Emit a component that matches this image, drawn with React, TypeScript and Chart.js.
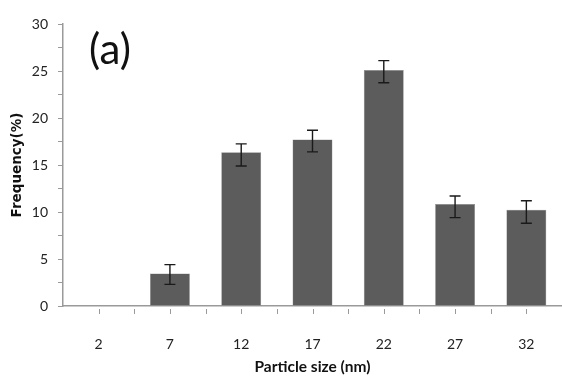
import React, { useEffect, useRef } from "react";
import { Chart, registerables } from "chart.js";

Chart.register(...registerables);

const categories = ["2", "7", "12", "17", "22", "27", "32"];
const frequency = [0, 3.45, 16.35, 17.7, 25.1, 10.85, 10.25];
const errorUp = [0, 0.95, 0.9, 1.0, 1.0, 0.85, 0.95];
const errorDown = [0, 1.15, 1.45, 1.3, 1.35, 1.45, 1.45];
const yTicks = [0, 5, 10, 15, 20, 25, 30];

const FONT = "Lato, 'Open Sans', sans-serif";
const AXIS_COLOR = "#9a9a9a";

const extrasPlugin = {
  id: "extras",
  afterDatasetsDraw(chart: any) {
    const ctx = chart.ctx;
    const x = chart.scales.x;
    const y = chart.scales.y;
    const meta = chart.getDatasetMeta(0);
    ctx.save();
    // error bars
    ctx.strokeStyle = "#1a1a1a";
    ctx.lineWidth = 1.4;
    meta.data.forEach((bar: any, i: number) => {
      if (!frequency[i]) return;
      const cx = bar.x;
      const top = y.getPixelForValue(frequency[i] + errorUp[i]);
      const bot = y.getPixelForValue(frequency[i] - errorDown[i]);
      ctx.beginPath();
      ctx.moveTo(cx, top);
      ctx.lineTo(cx, bot);
      ctx.moveTo(cx - 5.5, top);
      ctx.lineTo(cx + 5.5, top);
      ctx.moveTo(cx - 5.5, bot);
      ctx.lineTo(cx + 5.5, bot);
      ctx.stroke();
    });
    // x tick marks at centers and boundaries
    ctx.strokeStyle = AXIS_COLOR;
    ctx.lineWidth = 1;
    const base = y.getPixelForValue(0);
    const n = categories.length;
    const w = (x.right - x.left) / n;
    for (let k = 0; k < n * 2; k++) {
      const px = Math.round(x.left + (k + 1) * w / 2) + 0.5;
      ctx.beginPath();
      ctx.moveTo(px, base + 3);
      ctx.lineTo(px, base + 8);
      ctx.stroke();
    }
    // (a) label
    ctx.fillStyle = "#111";
    ctx.font = `42px ${FONT}`;
    ctx.textAlign = "center";
    ctx.textBaseline = "middle";
    ctx.fillText("(a)", 110, 50);
    ctx.restore();
  },
};

export default function App() {
  const ref = useRef<HTMLCanvasElement>(null);
  useEffect(() => {
    document.body.style.margin = "0";
    const chart = new Chart(ref.current!, {
      type: "bar",
      data: {
        labels: categories,
        datasets: [
          {
            data: frequency,
            backgroundColor: "#5c5c5c",
            borderColor: "#8a8a8a",
            borderWidth: 0.5,
            categoryPercentage: 1,
            barPercentage: 0.56,
          },
        ],
      },
      options: {
        responsive: false,
        animation: false,
        layout: { padding: { top: 24, right: 0, left: 0, bottom: 0 } },
        plugins: {
          legend: { display: false },
          tooltip: { enabled: false },
        },
        scales: {
          x: {
            grid: { display: false },
            border: { display: true, color: AXIS_COLOR, width: 1.5 },
            ticks: {
              color: "#222",
              font: { family: FONT, size: 14 },
              padding: 22,
              maxRotation: 0,
            },
            title: {
              display: true,
              text: "Particle size (nm)",
              color: "#111",
              font: { family: FONT, size: 15.5, weight: "bold" },
              padding: { top: 5, bottom: 0 },
            },
            afterFit: (s: any) => {
              s.height = 70;
            },
          },
          y: {
            min: 0,
            max: 30,
            afterBuildTicks: (s: any) => {
              const t: any[] = [];
              for (let v = 0; v <= 30; v += 2.5) t.push({ value: v });
              s.ticks = t;
            },
            grid: {
              display: true,
              drawOnChartArea: false,
              drawTicks: true,
              tickLength: 5,
              color: AXIS_COLOR,
            },
            border: { display: true, color: AXIS_COLOR, width: 1.5 },
            ticks: {
              color: "#222",
              font: { family: FONT, size: 14 },
              padding: 10,
              callback: (v: any) => (yTicks.includes(Number(v)) ? String(v) : ""),
            },
            title: {
              display: true,
              text: "Frequency(%)",
              color: "#111",
              font: { family: "'DejaVu Sans', sans-serif", size: 13.5, weight: "bold" },
              padding: { top: 9, bottom: 4 },
            },
            afterFit: (s: any) => {
              s.width = 63;
            },
          },
        },
      },
      plugins: [extrasPlugin],
    });
    return () => chart.destroy();
  }, []);
  return (
    <div style={{ position: "absolute", left: 0, top: 0, width: 562, height: 376, background: "#fff" }}>
      <canvas ref={ref} width={562} height={376} />
    </div>
  );
}
